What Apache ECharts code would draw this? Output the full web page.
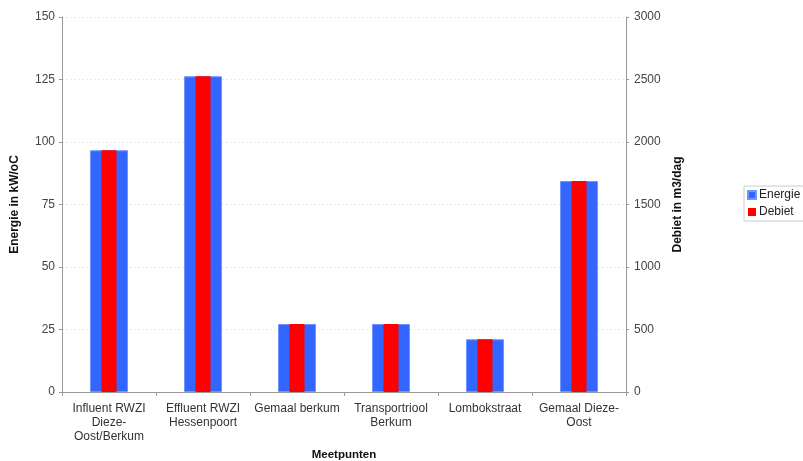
<!DOCTYPE html>
<html>
<head>
<meta charset="utf-8">
<script src="https://cdn.jsdelivr.net/npm/echarts@6/dist/echarts.min.js"></script>
<style>
html,body{margin:0;padding:0;background:#fff;}
#chart{width:803px;height:461px;}
</style>
</head>
<body>
<div id="chart"></div>
<script>
// Meetpunten with energy (kW/oC) and flow (m3/dag)
const categories = [
  'Influent RWZI\nDieze-\nOost/Berkum',
  'Effluent RWZI\nHessenpoort',
  'Gemaal berkum',
  'Transportriool\nBerkum',
  'Lombokstraat',
  'Gemaal Dieze-\nOost'
];
const energie = [96.7, 126.3, 27.2, 27.2, 21.1, 84.4];
const debiet = [1934, 2526, 544, 544, 422, 1688];
const leftTicks = [0, 25, 50, 75, 100, 125, 150];
const rightTicks = [0, 500, 1000, 1500, 2000, 2500, 3000];

const font = 'Liberation Sans, Arial, sans-serif';
const chart = echarts.init(document.getElementById('chart'));

chart.setOption({
  animation: false,
  textStyle: { fontFamily: font },
  grid: { left: 62, right: 177, top: 17, bottom: 69, containLabel: false, outerBoundsMode: 'none' },
  legend: {
    orient: 'vertical',
    left: 744, top: 186,
    icon: 'rect',
    itemWidth: 8, itemHeight: 8, itemGap: 5,
    padding: [3, 8, 3, 3],
    borderColor: '#cccccc', borderWidth: 1,
    textStyle: { fontSize: 12, color: '#222', padding: [0, 0, 0, -2] },
    data: ['Energie', 'Debiet']
  },
  xAxis: [
    {
      type: 'category', data: categories, gridIndex: 0,
      name: 'Meetpunten', nameLocation: 'middle', nameGap: 57,
      nameTextStyle: { fontSize: 11.5, fontWeight: 'bold', color: '#111' },
      axisLine: { lineStyle: { color: '#999', width: 1 } },
      axisTick: { show: true, length: 4, lineStyle: { color: '#999' } },
      axisLabel: { fontSize: 12, color: '#333', lineHeight: 14, margin: 10, interval: 0 }
    },
    {
      type: 'category', data: categories, gridIndex: 0, show: false
    }
  ],
  yAxis: [
    {
      type: 'value', min: 0, max: leftTicks[leftTicks.length - 1], interval: 25,
      name: 'Energie in kW/oC', nameLocation: 'middle', nameGap: 41, nameRotate: 90,
      nameTextStyle: { fontSize: 12, fontWeight: 'bold', color: '#111' },
      axisLine: { show: true, lineStyle: { color: '#999' } },
      axisTick: { show: true, length: 3, lineStyle: { color: '#999' } },
      axisLabel: { fontSize: 12, color: '#444', margin: 7, formatter: v => String(v) },
      splitLine: { show: true, lineStyle: { color: '#ebebeb', type: [2, 2] } }
    },
    {
      type: 'value', min: 0, max: rightTicks[rightTicks.length - 1], interval: 500,
      name: 'Debiet in m3/dag', nameLocation: 'middle', nameGap: 46, nameRotate: 90,
      nameTextStyle: { fontSize: 12, fontWeight: 'bold', color: '#111' },
      axisLine: { show: true, lineStyle: { color: '#999' } },
      axisTick: { show: true, length: 3, lineStyle: { color: '#999' } },
      axisLabel: { fontSize: 12, color: '#444', margin: 8, formatter: v => String(v) },
      splitLine: { show: false }
    }
  ],
  series: [
    {
      name: 'Energie', type: 'bar', xAxisIndex: 0, yAxisIndex: 0,
      data: energie, barWidth: 38,
      itemStyle: { color: '#3366ff', borderColor: '#6f95ff', borderWidth: 1 }
    },
    {
      name: 'Debiet', type: 'bar', xAxisIndex: 1, yAxisIndex: 1,
      data: debiet, barWidth: 15,
      itemStyle: { color: '#ff0000' }
    }
  ]
});
</script>
</body>
</html>
